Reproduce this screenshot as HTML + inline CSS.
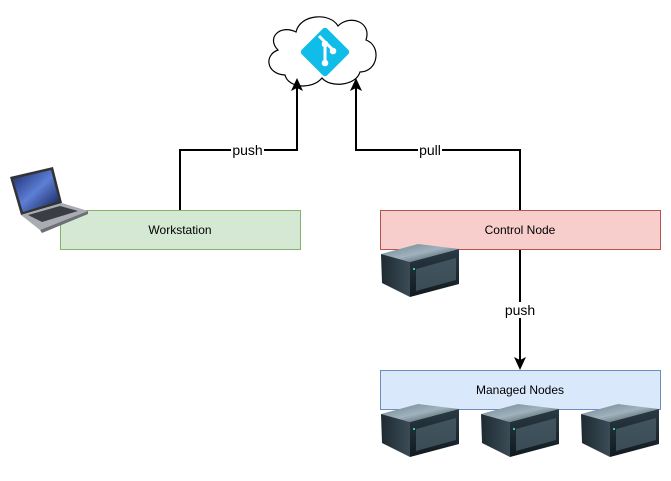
<!DOCTYPE html>
<html><head><style>
html,body{margin:0;padding:0;background:#fff;}
body{width:671px;height:481px;position:relative;overflow:hidden;font-family:"Liberation Sans",sans-serif;}
</style></head><body>
<svg width="671" height="481" viewBox="0 0 671 481" xmlns="http://www.w3.org/2000/svg" style="position:absolute;left:0;top:0">
<defs>
<linearGradient id="top" x1="0" y1="0" x2="1" y2="1"><stop offset="0" stop-color="#6f8592"/><stop offset="0.5" stop-color="#9fb2bd"/><stop offset="1" stop-color="#2c3a43"/></linearGradient>
<linearGradient id="side" x1="0" y1="0" x2="1" y2="0"><stop offset="0" stop-color="#1e2a31"/><stop offset="1" stop-color="#3b4c57"/></linearGradient>
<linearGradient id="front" x1="0" y1="0" x2="0" y2="1"><stop offset="0" stop-color="#2a3a44"/><stop offset="1" stop-color="#111a20"/></linearGradient>
<g id="srv">
<polygon points="1,12 38,2 79,7 30,20" fill="url(#top)"/>
<polygon points="1,12 30,20 30,55 2,41" fill="url(#side)"/>
<polygon points="30,20 79,7 79,42 30,55" fill="url(#front)"/>
<polygon points="36,27 76,16 76,38 36,49" fill="#556a76" opacity="0.6"/>
<circle cx="34" cy="27" r="1" fill="#3fc"/>
</g>
<linearGradient id="scr" x1="0" y1="0" x2="1" y2="1"><stop offset="0" stop-color="#1a2a6c"/><stop offset="0.5" stop-color="#5d7fd6"/><stop offset="1" stop-color="#0d1a4a"/></linearGradient>
</defs>
<!-- cloud -->
<path d="M285,75 C266,74 264,55 278,50 C266,38 280,24 296,32 C300,14 330,12 338,26 C350,14 372,22 366,40 C382,46 378,72 360,72 C356,86 330,88 322,78 C312,90 288,88 285,75 Z" fill="#fff" stroke="#000" stroke-width="1.2"/>
<rect x="307" y="34" width="36" height="36" rx="3" transform="rotate(45 325 52)" fill="#10bde9"/>
<g stroke="#fff" stroke-width="3" fill="none"><path d="M319,36 L333,50 M325,44 L325,62"/></g>
<circle cx="325" cy="44" r="3.3" fill="#fff"/><circle cx="333" cy="51" r="3.3" fill="#fff"/><circle cx="325" cy="63" r="3.3" fill="#fff"/>
<!-- connectors -->
<g stroke="#000" stroke-width="2" fill="none">
<path d="M180,210 V150 H297 V88"/>
<path d="M520,210 V150 H356 V88"/>
<path d="M520,250 V360"/>
</g>
<polygon points="297,78 291,91 297,88 303,91" fill="#000"/>
<polygon points="356,78 350,91 356,88 362,91" fill="#000"/>
<polygon points="520,370 514,357 520,360 526,357" fill="#000"/>
<rect x="231" y="142" width="33" height="16" fill="#fff"/>
<text x="247.5" y="155" font-size="14" text-anchor="middle" font-family="Liberation Sans">push</text>
<rect x="418" y="142" width="24" height="16" fill="#fff"/>
<text x="430" y="155" font-size="14" text-anchor="middle" font-family="Liberation Sans">pull</text>
<rect x="503" y="302" width="34" height="16" fill="#fff"/>
<text x="520" y="315" font-size="14" text-anchor="middle" font-family="Liberation Sans">push</text>
<!-- boxes -->
<rect x="60.5" y="210.5" width="240" height="39" fill="#d5e8d4" stroke="#82b366"/>
<text x="180" y="234" font-size="12" text-anchor="middle" font-family="Liberation Sans">Workstation</text>
<rect x="380.5" y="210.5" width="280" height="39" fill="#f8cecc" stroke="#b85450"/>
<text x="520" y="234" font-size="12" text-anchor="middle" font-family="Liberation Sans">Control Node</text>
<rect x="380.5" y="370.5" width="280" height="39" fill="#dae8fc" stroke="#6c8ebf"/>
<text x="520" y="394" font-size="12" text-anchor="middle" font-family="Liberation Sans">Managed Nodes</text>
<!-- laptop -->
<polygon points="10,177 53,167 62,203 21,215" fill="#333"/>
<polygon points="13,179 51,170 59,201 23,212" fill="url(#scr)"/>
<polygon points="21,215 62,203 88,211 40,230" fill="#a9adb3"/>
<polygon points="28,215 60,206 78,211 42,222" fill="#3a3d42"/>
<polygon points="40,230 88,211 88,214 42,233" fill="#6c7076"/>
<!-- servers -->
<use href="#srv" x="380" y="242"/>
<use href="#srv" x="380" y="402"/>
<use href="#srv" x="480" y="402"/>
<use href="#srv" x="580" y="402"/>
</svg>
</body></html>
